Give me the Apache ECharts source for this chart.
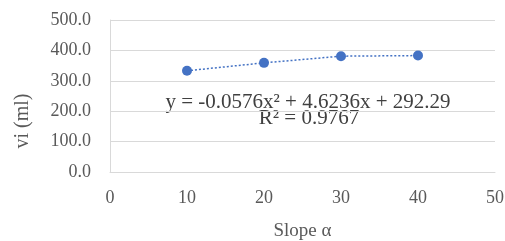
<!DOCTYPE html>
<html>
<head>
<meta charset="utf-8">
<script src="https://cdn.jsdelivr.net/npm/echarts@6/dist/echarts.min.js"></script>
<style>
    html, body { margin: 0; padding: 0; background: #fff; }
    #chart { width: 505px; height: 241px; }
</style>
</head>
<body>
<div id="chart"></div>
<script>
// slope angle vs volume
var slopes = [10, 20, 30, 40];
var volumes = [333, 359, 381, 383];
var yTicks = [0, 100, 200, 300, 400, 500];
var fitEq = 'y = -0.0576x\u00b2 + 4.6236x + 292.29';
var fitR2 = 'R\u00b2 = 0.9767';

var font = 'Liberation Serif';
var gray = '#595959';

var chart = echarts.init(document.getElementById('chart'));
var option = {
    animation: false,
    grid: {
        left: 110,
        right: 10,
        top: 20,
        bottom: 69,
        containLabel: false,
        outerBoundsMode: 'none'
    },
    xAxis: {
        type: 'value',
        min: 0,
        max: 50,
        interval: 10,
        name: 'Slope α',
        nameLocation: 'middle',
        nameGap: 50,
        nameTextStyle: { fontFamily: font, fontSize: 19, color: gray },
        axisLine: { show: true, lineStyle: { color: '#d9d9d9', width: 1 } },
        axisTick: { show: false },
        splitLine: { show: false },
        axisLabel: { fontFamily: font, fontSize: 18, color: gray, margin: 17 }
    },
    yAxis: {
        type: 'value',
        min: yTicks[0],
        max: yTicks[yTicks.length - 1],
        interval: 100,
        axisLine: { show: true, lineStyle: { color: '#d9d9d9', width: 1 } },
        axisTick: { show: false },
        splitLine: { show: true, lineStyle: { color: '#d9d9d9', width: 1 } },
        axisLabel: {
            fontFamily: font, fontSize: 18, color: gray, margin: 19,
            formatter: function (v) { return v.toFixed(1); }
        }
    },
    series: [
        {
            type: 'line',
            data: slopes.map(function (s, i) { return [s, volumes[i]]; }),
            symbol: 'circle',
            symbolSize: 10,
            itemStyle: { color: '#4472C4' },
            lineStyle: { color: '#4472C4', width: 1.5, type: [2, 2] }
        }
    ],
    graphic: [
        {
            // y axis title (sits lower than the plot middle in the original)
            type: 'text',
            x: 23,
            y: 121,
            rotation: Math.PI / 2,
            style: {
                text: 'vi (ml)',
                fontFamily: font,
                fontSize: 20,
                fill: gray,
                align: 'center',
                verticalAlign: 'middle'
            }
        },
        {
            type: 'text',
            x: 308,
            y: 102,
            style: {
                text: fitEq,
                fontFamily: font,
                fontSize: 21,
                fill: '#404040',
                align: 'center',
                verticalAlign: 'middle'
            }
        },
        {
            type: 'text',
            x: 309,
            y: 118,
            style: {
                text: fitR2,
                fontFamily: font,
                fontSize: 21,
                fill: '#404040',
                align: 'center',
                verticalAlign: 'middle'
            }
        }
    ]
};
chart.setOption(option);
</script>
</body>
</html>
